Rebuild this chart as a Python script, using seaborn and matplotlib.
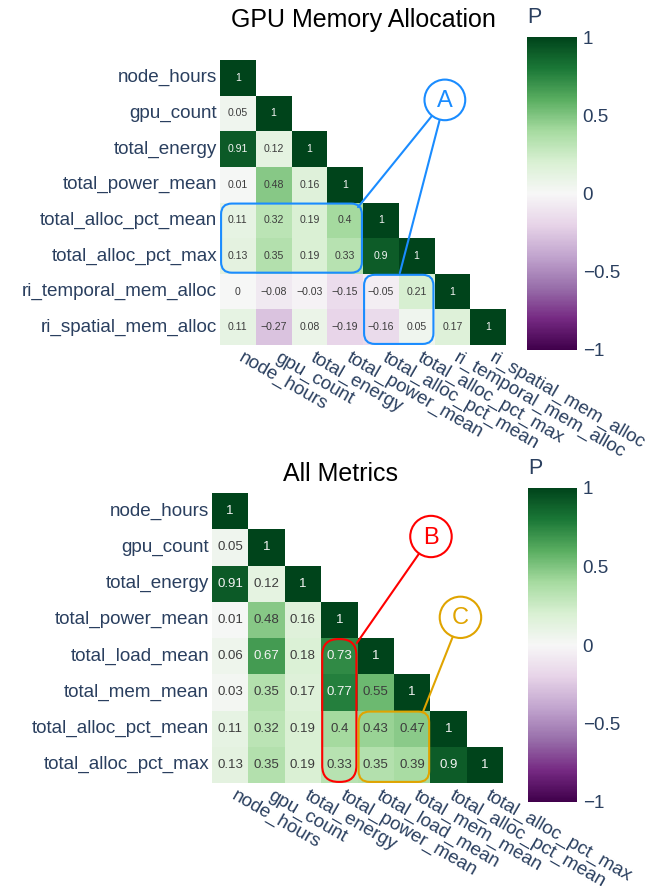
import numpy as np
import pandas as pd
import matplotlib
matplotlib.use("Agg")
import matplotlib.pyplot as plt
import matplotlib.transforms as mtransforms
import seaborn as sns
from matplotlib.patches import FancyBboxPatch, Circle

sns.set_theme(style="white")
plt.rcParams["font.family"] = ["Liberation Sans", "DejaVu Sans"]

# --- correlation data (lower triangle, row by row) ---------------------------
gpu_labels = ["node_hours", "gpu_count", "total_energy", "total_power_mean",
              "total_alloc_pct_mean", "total_alloc_pct_max",
              "ri_temporal_mem_alloc", "ri_spatial_mem_alloc"]
gpu_rows = [
    [1],
    [0.05, 1],
    [0.91, 0.12, 1],
    [0.01, 0.48, 0.16, 1],
    [0.11, 0.32, 0.19, 0.4, 1],
    [0.13, 0.35, 0.19, 0.33, 0.9, 1],
    [0, -0.08, -0.03, -0.15, -0.05, 0.21, 1],
    [0.11, -0.27, 0.08, -0.19, -0.16, 0.05, 0.17, 1],
]

all_labels = ["node_hours", "gpu_count", "total_energy", "total_power_mean",
              "total_load_mean", "total_mem_mean",
              "total_alloc_pct_mean", "total_alloc_pct_max"]
all_rows = [
    [1],
    [0.05, 1],
    [0.91, 0.12, 1],
    [0.01, 0.48, 0.16, 1],
    [0.06, 0.67, 0.18, 0.73, 1],
    [0.03, 0.35, 0.17, 0.77, 0.55, 1],
    [0.11, 0.32, 0.19, 0.4, 0.43, 0.47, 1],
    [0.13, 0.35, 0.19, 0.33, 0.35, 0.39, 0.9, 1],
]

cbar_ticks = [-1, -0.5, 0, 0.5, 1]
cbar_ticklabels = ["\u22121", "\u22120.5", "0", "0.5", "1"]

# highlight groups: (label, colour, [(col_first, col_last, row_first, row_last)],
#                    circle centre (col, row), leader-line targets)
gpu_marks = [("A", "#1a8cff", [(0, 3, 4, 5), (4, 5, 6, 7)], (6.29, 1.12),
              [(3.86, 4.13), (5.03, 5.98)])]
all_marks = [("B", "#ff0000", [(3, 3, 4, 7)], (6.02, 1.20), [(3.98, 4.14)]),
             ("C", "#e0a400", [(4, 5, 6, 7)], (6.83, 3.43), [(5.80, 6.04)])]

TEXT = "#2a3f5f"
W, H = 666, 891


def to_frame(rows, labels):
    n = len(labels)
    m = np.full((n, n), np.nan)
    for i, r in enumerate(rows):
        for j, v in enumerate(r):
            m[i, j] = v
            m[j, i] = v
    return pd.DataFrame(m, index=labels, columns=labels)


def fmt(v):
    s = f"{v:.2f}".rstrip("0").rstrip(".")
    if s in ("-0", ""):
        s = "0"
    return s.replace("-", "\u2212")


def px_axes(fig, x0, y0, x1, y1):
    return fig.add_axes([x0 / W, 1 - y1 / H, (x1 - x0) / W, (y1 - y0) / H])


def draw_panel(fig, df, hm_box, cb_box, title, title_xy, ann_size, marks,
               rounding):
    ax = px_axes(fig, *hm_box)
    cax = px_axes(fig, *cb_box)
    mask = np.triu(np.ones(df.shape, dtype=bool), k=1)
    labels = np.vectorize(fmt)(df.fillna(0).values)
    sns.heatmap(df, mask=mask, cmap="PRGn", vmin=-1, vmax=1, center=0,
                annot=labels, fmt="", annot_kws={"fontsize": ann_size},
                ax=ax, cbar_ax=cax, linewidths=0)
    cmap = plt.get_cmap("PRGn")
    # annotation colour: light text on dark cells, dark text elsewhere
    for t in ax.texts:
        x, y = t.get_position()
        v = df.values[int(np.floor(y)), int(np.floor(x))]
        r, g, b, _ = cmap((v + 1) / 2)
        lum = 0.299 * r + 0.587 * g + 0.114 * b
        t.set_color("#f4f4f4" if lum < 0.52 else "#3c3c3c")

    ax.tick_params(length=0, pad=2)
    ax.set_yticklabels(df.index, rotation=0, fontsize=13.6, color=TEXT)
    ax.set_xticklabels(df.columns, rotation=-30, ha="left", va="top",
                       rotation_mode="anchor", fontsize=13.6, color=TEXT)
    shift = mtransforms.ScaledTranslation(7 / 100, -1 / 100, fig.dpi_scale_trans)
    for t in ax.get_xticklabels():
        t.set_transform(t.get_transform() + shift)

    # colourbar
    cax.set_yticks(cbar_ticks)
    cax.set_yticklabels(cbar_ticklabels, fontsize=13.6, color=TEXT)
    cax.tick_params(length=0, pad=4)
    for s in cax.spines.values():
        s.set_visible(False)
    cax.text(0.0, 1.03, "P", transform=cax.transAxes, fontsize=15.5,
             color=TEXT, ha="left", va="bottom")

    fig.text(title_xy[0] / W, 1 - title_xy[1] / H, title, fontsize=18,
             color="black", ha="center", va="baseline")

    # highlighted groups with labelled callouts
    for letter, col, spans, (cx, cy), targets in marks:
        for c0, c1, r0, r1 in spans:
            p = 0.03
            box = FancyBboxPatch((c0 + p, r0 + p), c1 - c0 + 1 - 2 * p,
                                 r1 - r0 + 1 - 2 * p,
                                 boxstyle=f"round,pad=0,rounding_size={rounding[letter]}",
                                 fill=False, edgecolor=col, linewidth=1.5,
                                 clip_on=False, zorder=5)
            ax.add_patch(box)
        rad = 0.57
        ax.add_patch(Circle((cx, cy), rad, facecolor="white", edgecolor=col,
                            linewidth=1.5, clip_on=False, zorder=6))
        ax.text(cx, cy + 0.03, letter, color=col, fontsize=17, ha="center",
                va="center", zorder=7)
        for tx, ty in targets:
            d = np.hypot(tx - cx, ty - cy)
            sx, sy = cx + rad * (tx - cx) / d, cy + rad * (ty - cy) / d
            ax.plot([sx, tx], [sy, ty], color=col, linewidth=1.5,
                    clip_on=False, zorder=5, solid_capstyle="round")
    return ax


fig = plt.figure(figsize=(W / 100, H / 100), dpi=100)

draw_panel(fig, to_frame(gpu_rows, gpu_labels), (220, 60, 506, 345),
           (527, 37, 577, 350), "GPU Memory Allocation", (363.5, 27), 7.6,
           gpu_marks, {"A": 0.3})
draw_panel(fig, to_frame(all_rows, all_labels), (212, 493, 503, 783),
           (528, 488, 577, 802), "All Metrics", (340.5, 481), 9.5,
           all_marks, {"B": 0.45, "C": 0.3})

fig.savefig("out.png", dpi=100)
